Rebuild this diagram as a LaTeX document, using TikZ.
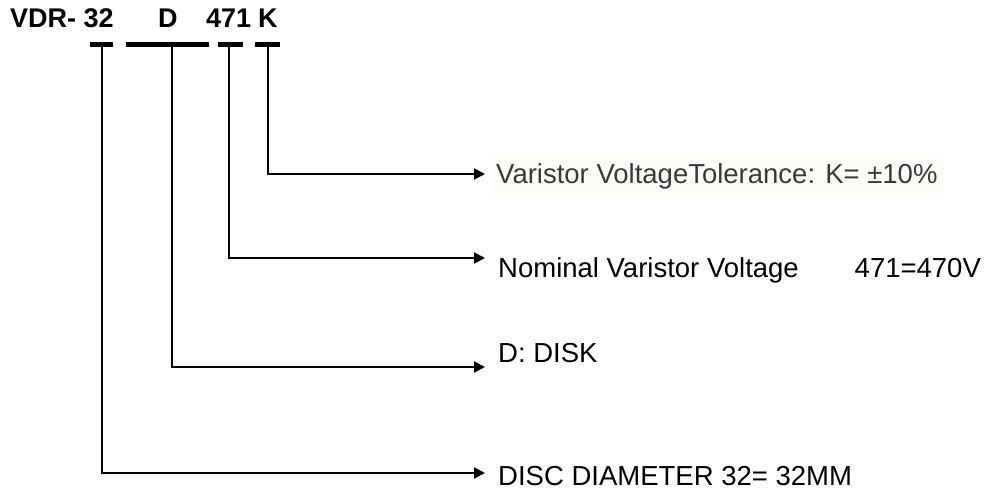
\documentclass[tikz,border=0pt]{standalone}
\usepackage{fontspec}
\setmainfont{Liberation Sans}
\usetikzlibrary{arrows.meta,positioning}
\definecolor{txtgray}{RGB}{58,58,58}
\definecolor{boxbg}{RGB}{252,252,249}

\begin{document}
\begin{tikzpicture}[x=1pt, y=-1pt,
  partno/.style={font=\fontsize{27}{32}\selectfont\bfseries, inner sep=0pt, anchor=base west},
  desc/.style={font=\fontsize{27.5}{32}\selectfont, inner sep=0pt, anchor=base west},
  segbar/.style={line width=5pt},
  leadline/.style={line width=2pt, -{Triangle[length=11pt,width=11pt]}}]
  \useasboundingbox (0,0) rectangle (989,490);

  % part number
  \node[partno] (vdr) at (10,27) {VDR- 32};
  \node[partno] (dsk) at (158,27) {D};
  \node[partno] (volt) at (206,27) {471};
  \node[partno] (tolk) at (258,27) {K};

  % bars under the code
  \draw[segbar] (90,44.5) -- (113,44.5);
  \draw[segbar] (126,44.5) -- (209,44.5);
  \draw[segbar] (218,44.5) -- (243,44.5);
  \draw[segbar] (255,44.5) -- (280,44.5);
  \coordinate (b1) at (102,44);
  \coordinate (b2) at (172,44);
  \coordinate (b3) at (229,44);
  \coordinate (b4) at (268,44);

  % arrow ends
  \coordinate (e4) at (485,174);
  \coordinate (e3) at (485,258);
  \coordinate (e2) at (485,367);
  \coordinate (e1) at (485,473);

  % descriptions
  \node[desc, fill=boxbg, text=txtgray, inner xsep=6pt, inner ysep=9pt] (tol) at (490,183) {Varistor VoltageTolerance: K= ±10\%};
  \node[desc] (nom) at (498,277) {Nominal Varistor Voltage\hspace{56pt}471=470V};
  \node[desc] (disk) at (498,362) {D: DISK};
  \node[desc] (dia) at (498,485) {DISC DIAMETER 32= 32MM};

  % leader lines
  \draw[leadline] (b4) |- (e4);
  \draw[leadline] (b3) |- (e3);
  \draw[leadline] (b2) |- (e2);
  \draw[leadline] (b1) |- (e1);
\end{tikzpicture}
\end{document}
